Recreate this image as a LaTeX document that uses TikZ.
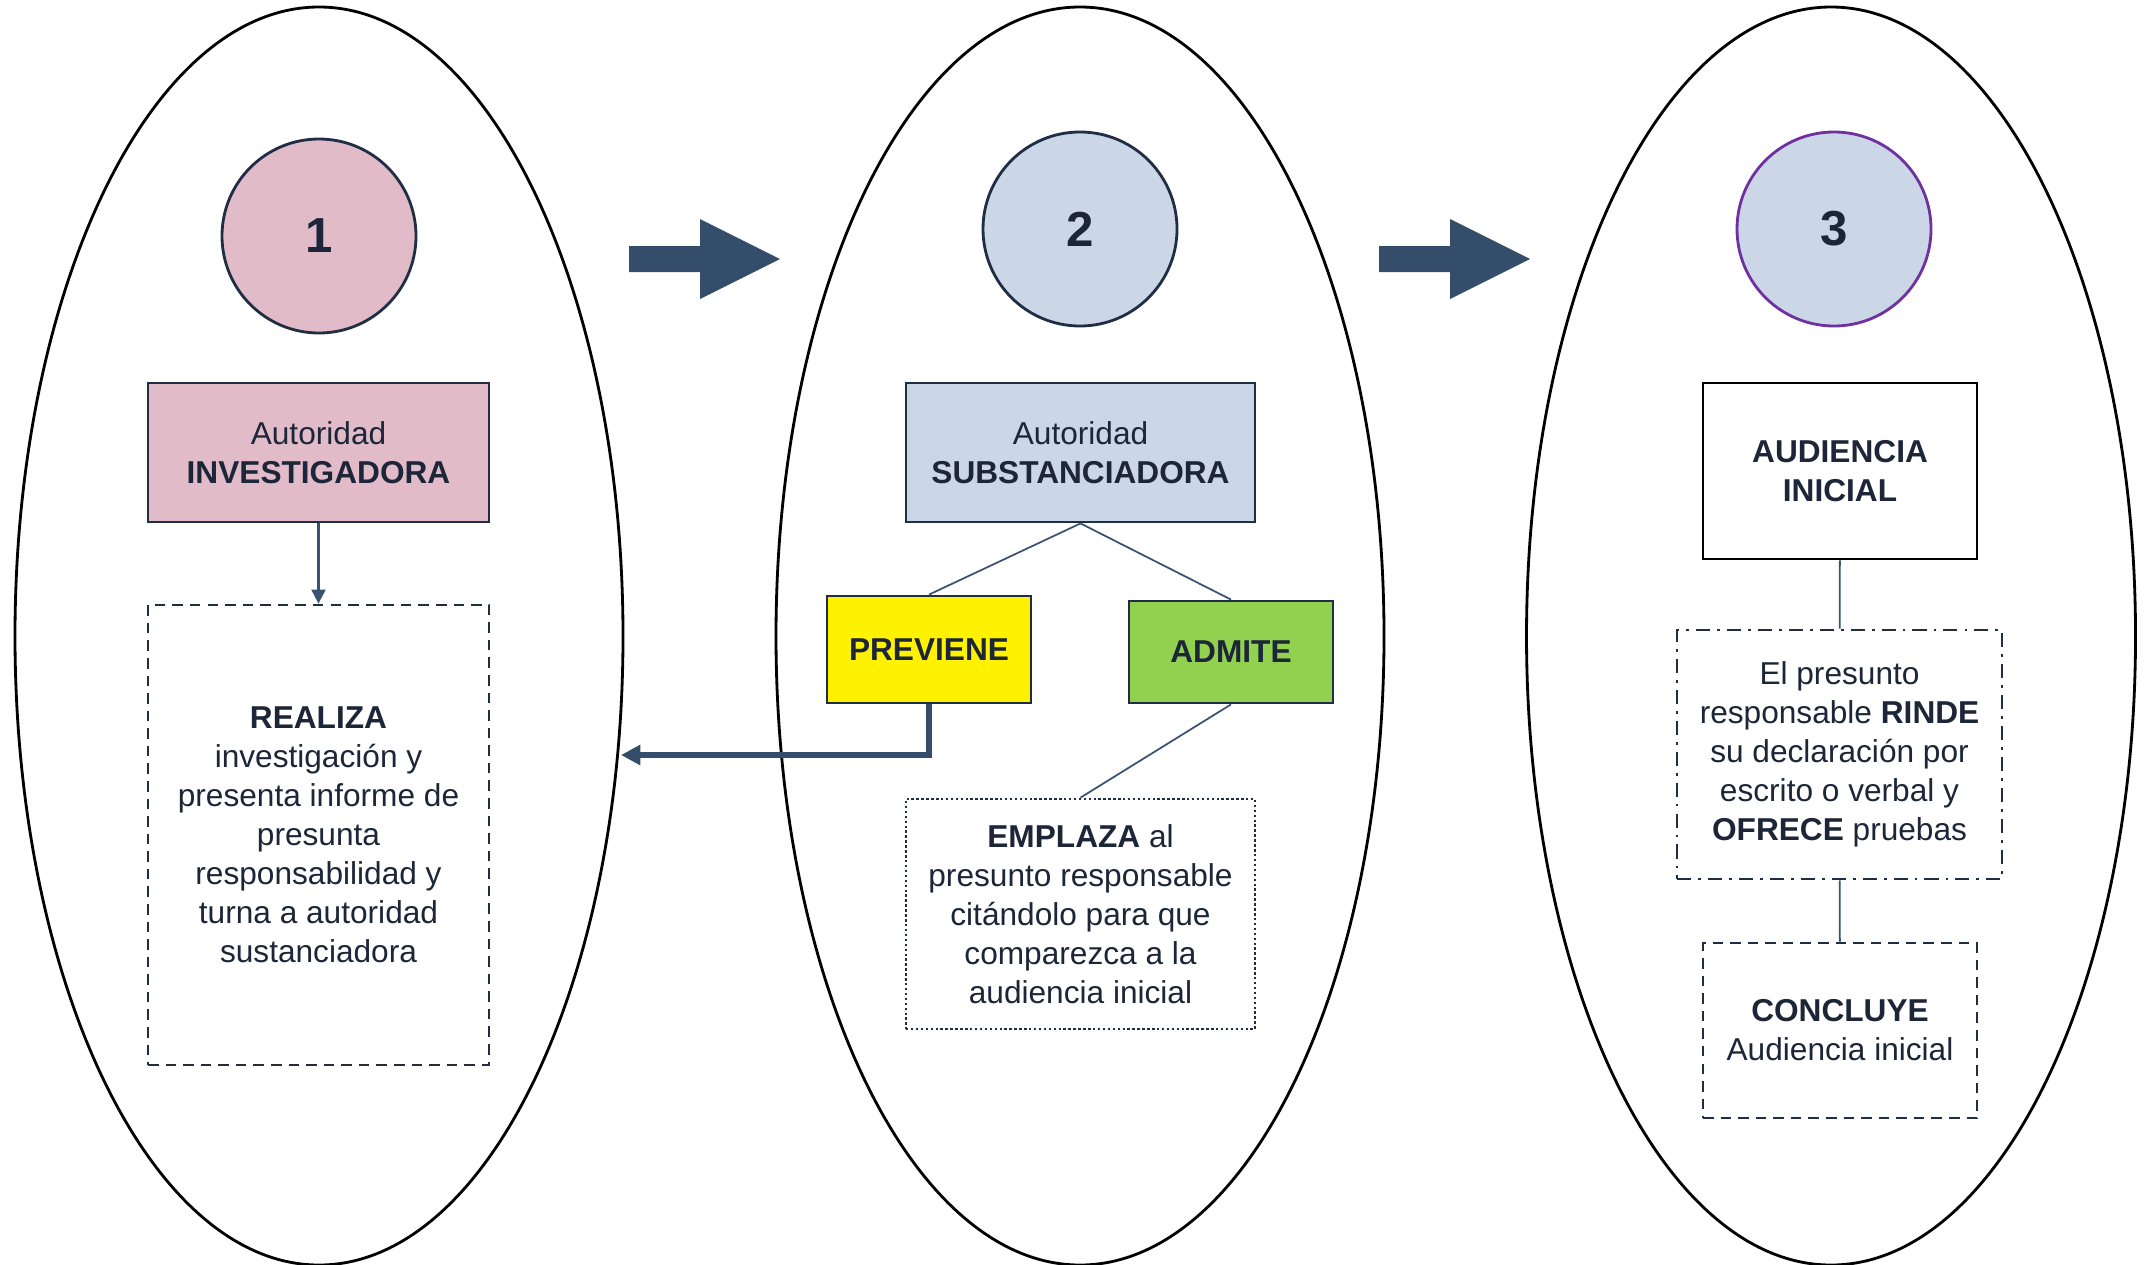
\documentclass[tikz,border=0pt]{standalone}
\usepackage{fontspec}
\setmainfont{Liberation Sans}
\usetikzlibrary{arrows.meta}
\definecolor{textoazul}{HTML}{1C2638}
\definecolor{bordeazul}{HTML}{1F2D45}
\definecolor{lineaazul}{HTML}{3B5373}
\definecolor{flechaazul}{HTML}{344D6B}
\definecolor{rosa}{HTML}{E2BBC8}
\definecolor{celeste}{HTML}{CBD7E6}
\definecolor{verde}{HTML}{92D050}
\definecolor{morado}{HTML}{7030A0}
\tikzset{
  etapa/.style={circle, draw=bordeazul, line width=0.8pt, minimum size=1.94cm, inner sep=0pt,
    text=textoazul, font=\fontsize{14}{16}\selectfont\bfseries},
  caja/.style={draw=bordeazul, line width=0.8pt, inner sep=2pt, align=center,
    text=textoazul, font=\fontsize{9}{11.1}\selectfont},
  enlace/.style={draw=lineaazul, line width=0.5pt},
}
\begin{document}
\begin{tikzpicture}
    \useasboundingbox (0,0) rectangle (21.46,-12.64);
    % las tres etapas
    \draw[line width=0.8pt] (3.19,-6.36) ellipse (3.04cm and 6.29cm);
    \draw[line width=0.8pt] (10.80,-6.36) ellipse (3.04cm and 6.29cm);
    \draw[line width=0.8pt] (18.31,-6.36) ellipse (3.045cm and 6.29cm);
    \foreach \dx in {0,7.5}
      \fill[flechaazul,shift={(\dx,0)}] (6.29,-2.46) -- (7.00,-2.46) -- (7.00,-2.19) -- (7.80,-2.59)
        -- (7.00,-2.99) -- (7.00,-2.72) -- (6.29,-2.72) -- cycle;

    \node[etapa, fill=rosa] (uno) at (3.19,-2.36) {1};
    \node[etapa, fill=celeste] (dos) at (10.80,-2.29) {2};
    \node[etapa, fill=celeste, draw=morado] (tres) at (18.34,-2.29) {3};

    % etapa 1
    \node[caja, fill=rosa, minimum width=3.41cm, minimum height=1.39cm] (investigadora) at (3.185,-4.525)
      {Autoridad\\\textbf{INVESTIGADORA}};
    \node[caja, dash pattern=on 3pt off 2pt, minimum width=3.41cm, minimum height=4.60cm] (realiza) at (3.185,-8.35)
      {\textbf{REALIZA}\\investigación y\\presenta informe de\\presunta\\responsabilidad y\\turna a autoridad\\sustanciadora};
    \draw[enlace, line width=0.6pt, -{Triangle[length=4pt,width=4pt]}] (investigadora) -- (realiza);

    % etapa 2
    \node[caja, fill=celeste, minimum width=3.49cm, minimum height=1.39cm] (substanciadora) at (10.805,-4.525)
      {Autoridad\\\textbf{SUBSTANCIADORA}};
    \node[caja, fill=yellow, minimum width=2.04cm, minimum height=1.07cm] (previene) at (9.29,-6.495)
      {\textbf{PREVIENE}};
    \node[caja, fill=verde, minimum width=2.04cm, minimum height=1.02cm] (admite) at (12.31,-6.52)
      {\textbf{ADMITE}};
    \node[caja, dash pattern=on 0.7pt off 0.7pt, minimum width=3.49cm, minimum height=2.30cm] (emplaza) at (10.805,-9.14)
      {\textbf{EMPLAZA} al\\presunto responsable\\citándolo para que\\comparezca a la\\audiencia inicial};
    \draw[enlace] (substanciadora.south) -- (previene.north);
    \draw[enlace] (substanciadora.south) -- (admite.north);
    \draw[enlace] (admite.south) -- (emplaza.north);
    \coordinate (regreso) at (6.21,-7.55);
    \draw[flechaazul, line width=1.7pt, -{Triangle[length=5.5pt,width=5.5pt]}] (previene.south) |- (regreso);

    % etapa 3
    \node[caja, draw=black, minimum width=2.74cm, minimum height=1.76cm] (audiencia) at (18.40,-4.71)
      {\textbf{AUDIENCIA}\\\textbf{INICIAL}};
    \node[caja, dash pattern=on 4pt off 2pt on 0.8pt off 2pt, minimum width=3.25cm, minimum height=2.49cm] (rinde) at (18.395,-7.545)
      {El presunto\\responsable \textbf{RINDE}\\su declaración por\\escrito o verbal y\\\textbf{OFRECE} pruebas};
    \node[caja, dash pattern=on 3pt off 2pt, minimum width=2.74cm, minimum height=1.75cm] (concluye) at (18.40,-10.305)
      {\textbf{CONCLUYE}\\Audiencia inicial};
    \draw[enlace] (audiencia) -- (rinde);
    \draw[enlace] (rinde) -- (concluye);
  \end{tikzpicture}
\end{document}
